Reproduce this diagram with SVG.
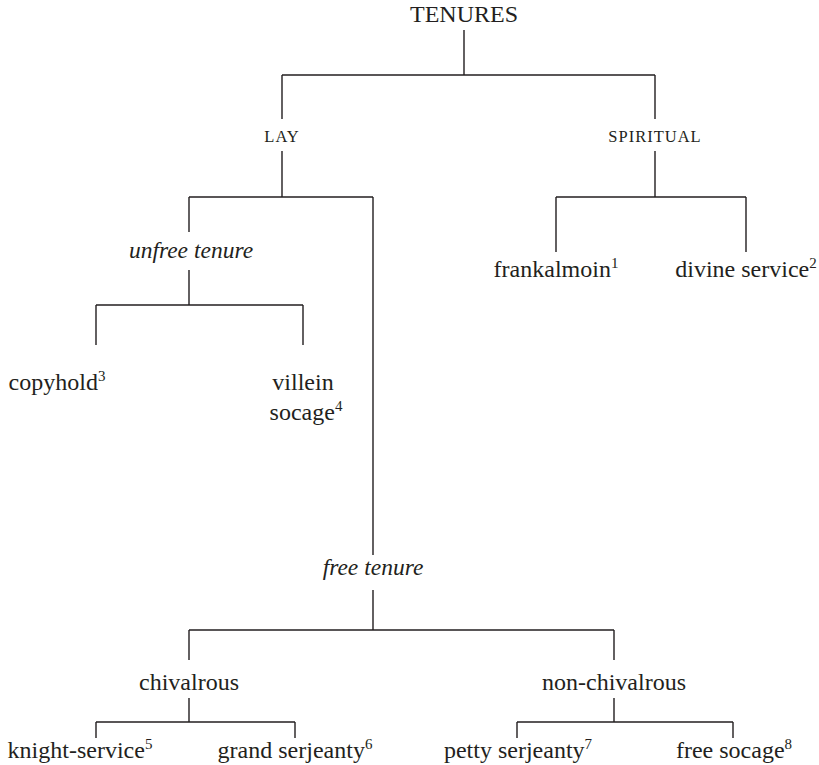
<svg xmlns="http://www.w3.org/2000/svg" width="819" height="765" viewBox="0 0 819 765">
  <style>
    .t { font-family: "Liberation Serif", "DejaVu Serif", serif; font-size: 24px; fill: #231f20; text-anchor: middle; }
    .top { font-size: 24px; }
    .sc { font-size: 16.5px; letter-spacing: 1px; }
    .it { font-style: italic; font-size: 23.5px; }
    .sup { font-size: 15px; }
    .ln { stroke: #231f20; stroke-width: 1.4; fill: none; }
  </style>
  <rect width="819" height="765" fill="#ffffff"/>

  <!-- tree connectors -->
  <g id="connectors" class="ln">
    <path d="M464 30 V75 M282 75 H655 M282 75 V119 M655 75 V119"/>
    <path d="M282 151 V197 M189 197 H373 M189 197 V232 M373 197 V555"/>
    <path d="M655 151 V197 M556 197 H746 M556 197 V252 M746 197 V252"/>
    <path d="M189 270 V305 M96 305 H303 M96 305 V345 M303 305 V345"/>
    <path d="M373 590 V630 M189 630 H614 M189 630 V660 M614 630 V660"/>
    <path d="M189 698 V722 M96 722 H295 M96 722 V738 M295 722 V738"/>
    <path d="M614 698 V722 M517 722 H733 M517 722 V738 M733 722 V738"/>
  </g>

  <g id="tenures"><text class="t top" x="464" y="22">TENURES</text></g>
  <g id="lay"><text class="t sc" x="282" y="142">LAY</text></g>
  <g id="spiritual"><text class="t sc" x="655" y="142">SPIRITUAL</text></g>
  <g id="frankalmoin"><text class="t" x="556" y="277">frankalmoin<tspan class="sup" dy="-9">1</tspan></text></g>
  <g id="divine-service"><text class="t" x="746" y="277">divine service<tspan class="sup" dy="-9">2</tspan></text></g>
  <g id="unfree-tenure"><text class="t it" x="191" y="258">unfree tenure</text></g>
  <g id="copyhold"><text class="t" x="57" y="390">copyhold<tspan class="sup" dy="-9">3</tspan></text></g>
  <g id="villein-socage">
    <text class="t" x="303" y="390">villein</text>
    <text class="t" x="306" y="420">socage<tspan class="sup" dy="-9">4</tspan></text>
  </g>
  <g id="free-tenure"><text class="t it" x="373" y="575">free tenure</text></g>
  <g id="chivalrous"><text class="t" x="189" y="690">chivalrous</text></g>
  <g id="non-chivalrous"><text class="t" x="614" y="690">non-chivalrous</text></g>
  <g id="knight-service"><text class="t" x="80" y="758">knight-service<tspan class="sup" dy="-9">5</tspan></text></g>
  <g id="grand-serjeanty"><text class="t" x="295" y="758">grand serjeanty<tspan class="sup" dy="-9">6</tspan></text></g>
  <g id="petty-serjeanty"><text class="t" x="518" y="758">petty serjeanty<tspan class="sup" dy="-9">7</tspan></text></g>
  <g id="free-socage"><text class="t" x="734" y="758">free socage<tspan class="sup" dy="-9">8</tspan></text></g>
</svg>
